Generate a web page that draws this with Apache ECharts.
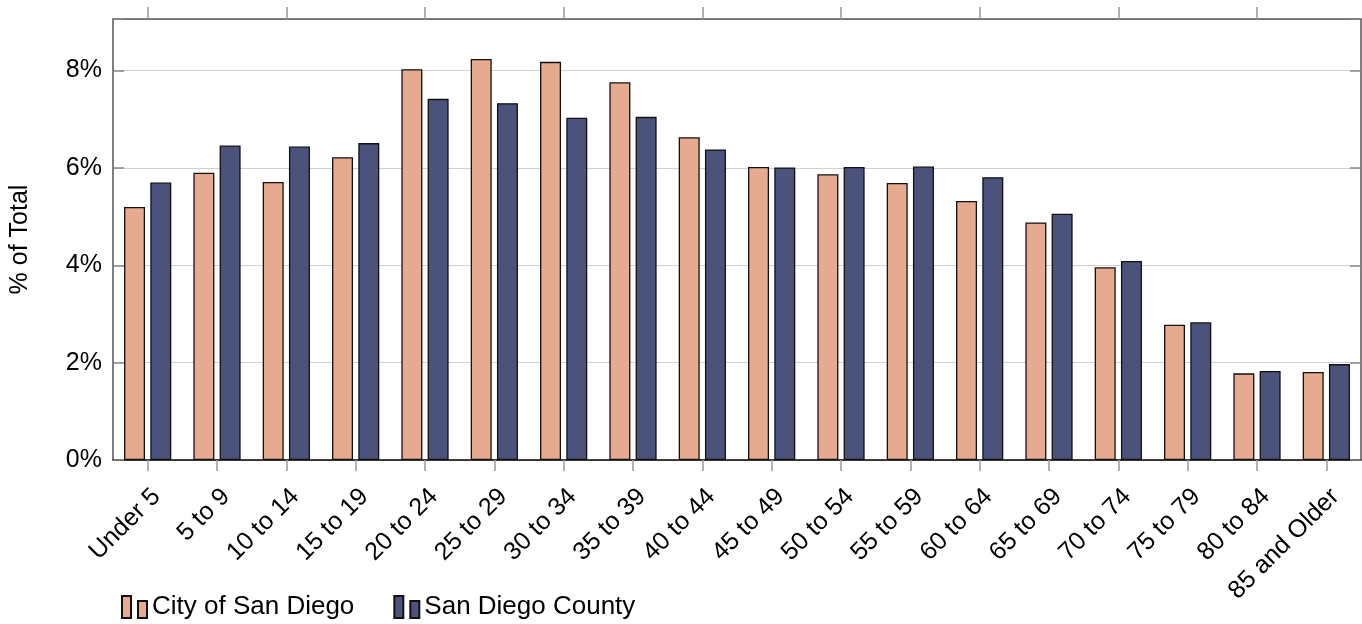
<!DOCTYPE html>
<html>
<head>
<meta charset="utf-8">
<script src="https://cdn.jsdelivr.net/npm/echarts@6/dist/echarts.min.js"></script>
<style>
html,body{margin:0;padding:0;background:#fff;}
#chart{width:1362px;height:624px;}
</style>
</head>
<body>
<div id="chart"></div>
<script>
const categories = ['Under 5','5 to 9','10 to 14','15 to 19','20 to 24','25 to 29','30 to 34','35 to 39','40 to 44','45 to 49','50 to 54','55 to 59','60 to 64','65 to 69','70 to 74','75 to 79','80 to 84','85 and Older'];
const cityValues = [5.20,5.90,5.71,6.22,8.03,8.24,8.18,7.76,6.63,6.02,5.87,5.69,5.32,4.88,3.96,2.78,1.78,1.81];
const countyValues = [5.70,6.46,6.44,6.51,7.42,7.33,7.03,7.05,6.38,6.01,6.02,6.03,5.81,5.06,4.09,2.83,1.83,1.97];
const yTicks = [0,2,4,6,8];
const seriesNames = ['City of San Diego','San Diego County'];

const FONT = '"Liberation Sans", Arial, Helvetica, sans-serif';
const chart = echarts.init(document.getElementById('chart'));
const legendIcon = 'path://M0,0h9v22h-9z M16,5h9v17h-9z';

chart.setOption({
  animation: false,
  textStyle: {fontFamily: FONT},
  grid: {left: 113, right: 1, top: 19, bottom: 164, containLabel: false},
  legend: {
    left: 116, top: 589,
    itemWidth: 25, itemHeight: 22, itemGap: 39,
    textStyle: {fontSize: 26, color: '#000', fontFamily: FONT},
    data: [
      {name: seriesNames[0], icon: legendIcon},
      {name: seriesNames[1], icon: legendIcon}
    ]
  },
  xAxis: [
    {
      type: 'category', data: categories, position: 'bottom',
      axisLine: {show: true, onZero: false, lineStyle: {color: '#000', width: 1.5}},
      axisTick: {show: true, alignWithLabel: true, length: 11, inside: false, lineStyle: {color: '#999', width: 1.5}},
      axisLabel: {interval: 0, rotate: 45, fontSize: 25, color: '#000', margin: 24, verticalAlign: 'top', fontFamily: FONT},
      splitLine: {show: false}
    },
    {
      type: 'category', data: categories, position: 'top',
      axisLine: {show: true, onZero: false, lineStyle: {color: '#555', width: 1.5}},
      axisTick: {show: true, alignWithLabel: true, length: 12, inside: false, lineStyle: {color: '#999', width: 1.5}},
      axisLabel: {show: false},
      splitLine: {show: false}
    }
  ],
  yAxis: [
    {
      type: 'value', min: 0, max: 9.06, interval: 2, position: 'left',
      name: '% of Total', nameLocation: 'middle', nameGap: 80, nameRotate: 90,
      nameTextStyle: {fontSize: 25, color: '#000', fontFamily: FONT},
      axisLine: {show: true, onZero: false, lineStyle: {color: '#555', width: 1.5}},
      axisTick: {show: true, inside: true, length: 11, lineStyle: {color: '#888', width: 1.5}},
      axisLabel: {fontSize: 25, color: '#000', margin: 11, fontFamily: FONT,
        formatter: v => yTicks.indexOf(Math.round(v*100)/100) >= 0 ? v + '%' : ''},
      splitLine: {show: true, lineStyle: {color: '#d0d0d0', width: 1.2}}
    },
    {
      type: 'value', min: 0, max: 9.06, interval: 2, position: 'right',
      axisLine: {show: true, onZero: false, lineStyle: {color: '#555', width: 1.5}},
      axisTick: {show: true, inside: true, length: 11, lineStyle: {color: '#888', width: 1.5}},
      axisLabel: {show: false},
      splitLine: {show: false}
    }
  ],
  series: [
    {
      name: seriesNames[0], type: 'bar', data: cityValues,
      barWidth: 21, barGap: '25%',
      itemStyle: {color: '#E6AA90', borderColor: '#111', borderWidth: 1.3}
    },
    {
      name: seriesNames[1], type: 'bar', data: countyValues,
      barWidth: 21, barGap: '25%',
      itemStyle: {color: '#4B527B', borderColor: '#111', borderWidth: 1.3}
    }
  ]
});
</script>
</body>
</html>
